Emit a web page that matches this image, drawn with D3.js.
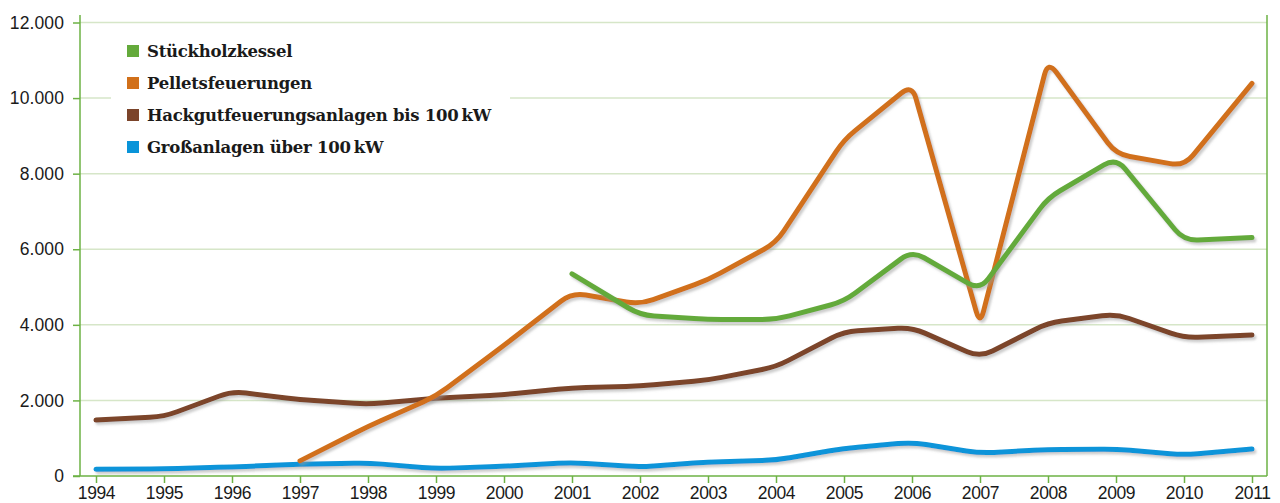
<!DOCTYPE html>
<html><head><meta charset="utf-8">
<script src="https://cdn.jsdelivr.net/npm/d3@7"></script>
<style>
body{margin:0;background:#fff;}
svg{display:block;}
</style></head>
<body>
<svg id="chart" width="1280" height="503"></svg>
<script>
const years = [1994,1995,1996,1997,1998,1999,2000,2001,2002,2003,2004,2005,2006,2007,2008,2009,2010,2011];
const seriesNames = ["Stückholzkessel","Pelletsfeuerungen","Hackgutfeuerungsanlagen bis 100\u2009kW","Großanlagen über 100\u2009kW"];
const stueckholz = [null,null,null,null,null,null,null,5350,4260,4140,4140,4620,5960,4920,7360,8420,6230,6310];
const pellets = [null,null,null,400,1310,2110,3460,4850,4540,5190,6170,8900,10360,4000,10980,8520,8200,10390];
const hackgut = [1480,1570,2240,2020,1900,2060,2150,2330,2380,2540,2890,3820,3930,3140,4050,4290,3660,3730];
const gross = [180,190,240,310,345,195,260,355,240,370,420,730,890,605,700,710,560,715];
const yTicks = [0,2000,4000,6000,8000,10000,12000];
const colors = ["#64aa3b","#d1701a","#7b442a","#0994d9"];

const svg = d3.select("#chart");
const mLeft = 80, mRight = 1267, mTop = 15, mBottom = 476;
const x = d3.scalePoint().domain(years).range([96, 1252]);
const y = d3.scaleLinear().domain([0,12000]).range([mBottom, 22.5]);

const defs = svg.append("defs");
const f = defs.append("filter").attr("id","sh").attr("x","-10%").attr("y","-10%").attr("width","120%").attr("height","130%");
f.append("feDropShadow").attr("dx",2).attr("dy",2.5).attr("stdDeviation",1.2).attr("flood-color","#999").attr("flood-opacity",0.5);

// gridlines
svg.append("g").selectAll("line").data(yTicks.filter(d=>d>0)).join("line")
  .attr("x1",mLeft).attr("x2",mRight).attr("y1",d=>y(d)).attr("y2",d=>y(d))
  .attr("stroke","#d6e6c8").attr("stroke-width",1.5);

const tickFont = "Liberation Sans, Arial, sans-serif";
// y axis
const yAxis = svg.append("g").attr("transform",`translate(${mLeft},0)`)
  .call(d3.axisLeft(y).tickValues(yTicks).tickSize(7).tickPadding(9)
    .tickFormat(d=>d3.format(",")(d).replace(/,/g,".")));
yAxis.select(".domain").remove();
yAxis.selectAll(".tick line").attr("stroke","#6db244").attr("stroke-width",1.5);
yAxis.selectAll("text").attr("font-family",tickFont).attr("font-size",17.5).attr("fill","#1a1a1a").attr("letter-spacing","0.1");

// x axis
const xAxis = svg.append("g").attr("transform",`translate(0,${mBottom})`)
  .call(d3.axisBottom(x).tickSize(7).tickPadding(4));
xAxis.select(".domain").remove();
xAxis.selectAll(".tick line").attr("stroke","#6db244").attr("stroke-width",1.5);
xAxis.selectAll("text").attr("font-family",tickFont).attr("font-size",17.5).attr("fill","#1a1a1a").attr("letter-spacing","-0.4");

// frame lines
svg.append("line").attr("x1",mLeft).attr("x2",mLeft).attr("y1",mTop).attr("y2",mBottom).attr("stroke","#6db244").attr("stroke-width",1.5);
svg.append("line").attr("x1",mRight).attr("x2",mRight).attr("y1",mTop).attr("y2",mBottom).attr("stroke","#6db244").attr("stroke-width",1.5);
svg.append("line").attr("x1",73).attr("x2",mRight).attr("y1",mBottom).attr("y2",mBottom).attr("stroke","#6db244").attr("stroke-width",1.5);

// legend background
svg.append("rect").attr("x",111).attr("y",32).attr("width",399).attr("height",132).attr("fill","#fff");

// rounded-corner polyline path built from scaled points
function roundedPath(pts, r){
  let p = `M${pts[0][0]},${pts[0][1]}`;
  for(let i=1;i<pts.length-1;i++){
    const [x0,y0]=pts[i-1],[x1,y1]=pts[i],[x2,y2]=pts[i+1];
    const d1=Math.hypot(x1-x0,y1-y0), d2=Math.hypot(x2-x1,y2-y1);
    const r1=Math.min(r,d1*0.4), r2=Math.min(r,d2*0.4);
    const ax=x1-(x1-x0)/d1*r1, ay=y1-(y1-y0)/d1*r1;
    const bx=x1+(x2-x1)/d2*r2, by=y1+(y2-y1)/d2*r2;
    p += `L${ax},${ay}Q${x1},${y1} ${bx},${by}`;
  }
  const l=pts[pts.length-1];
  p += `L${l[0]},${l[1]}`;
  return p;
}

// lines
const data = [stueckholz, pellets, hackgut, gross];
const order = [3,2,1,0];
order.forEach(i=>{
  const pts = years.map((yr,j)=>[yr,data[i][j]]).filter(d=>d[1]!=null).map(d=>[x(d[0]),y(d[1])]);
  svg.append("path").attr("d",roundedPath(pts,14)).attr("fill","none").attr("stroke",colors[i]).attr("stroke-width",5)
    .attr("stroke-linecap","round").attr("stroke-linejoin","round").attr("filter","url(#sh)");
});

// legend
const lg = svg.append("g");
seriesNames.forEach((n,i)=>{
  const cy = 51 + i*32;
  lg.append("rect").attr("x",127).attr("y",cy-6).attr("width",12).attr("height",12).attr("fill",colors[i]);
  lg.append("text").attr("x",147).attr("y",cy+6).text(n)
    .attr("font-family","DejaVu Serif, serif").attr("font-weight","bold").attr("font-size",16.5)
    .attr("letter-spacing","-0.25").attr("fill","#1a1a1a");
});
</script>
</body></html>
